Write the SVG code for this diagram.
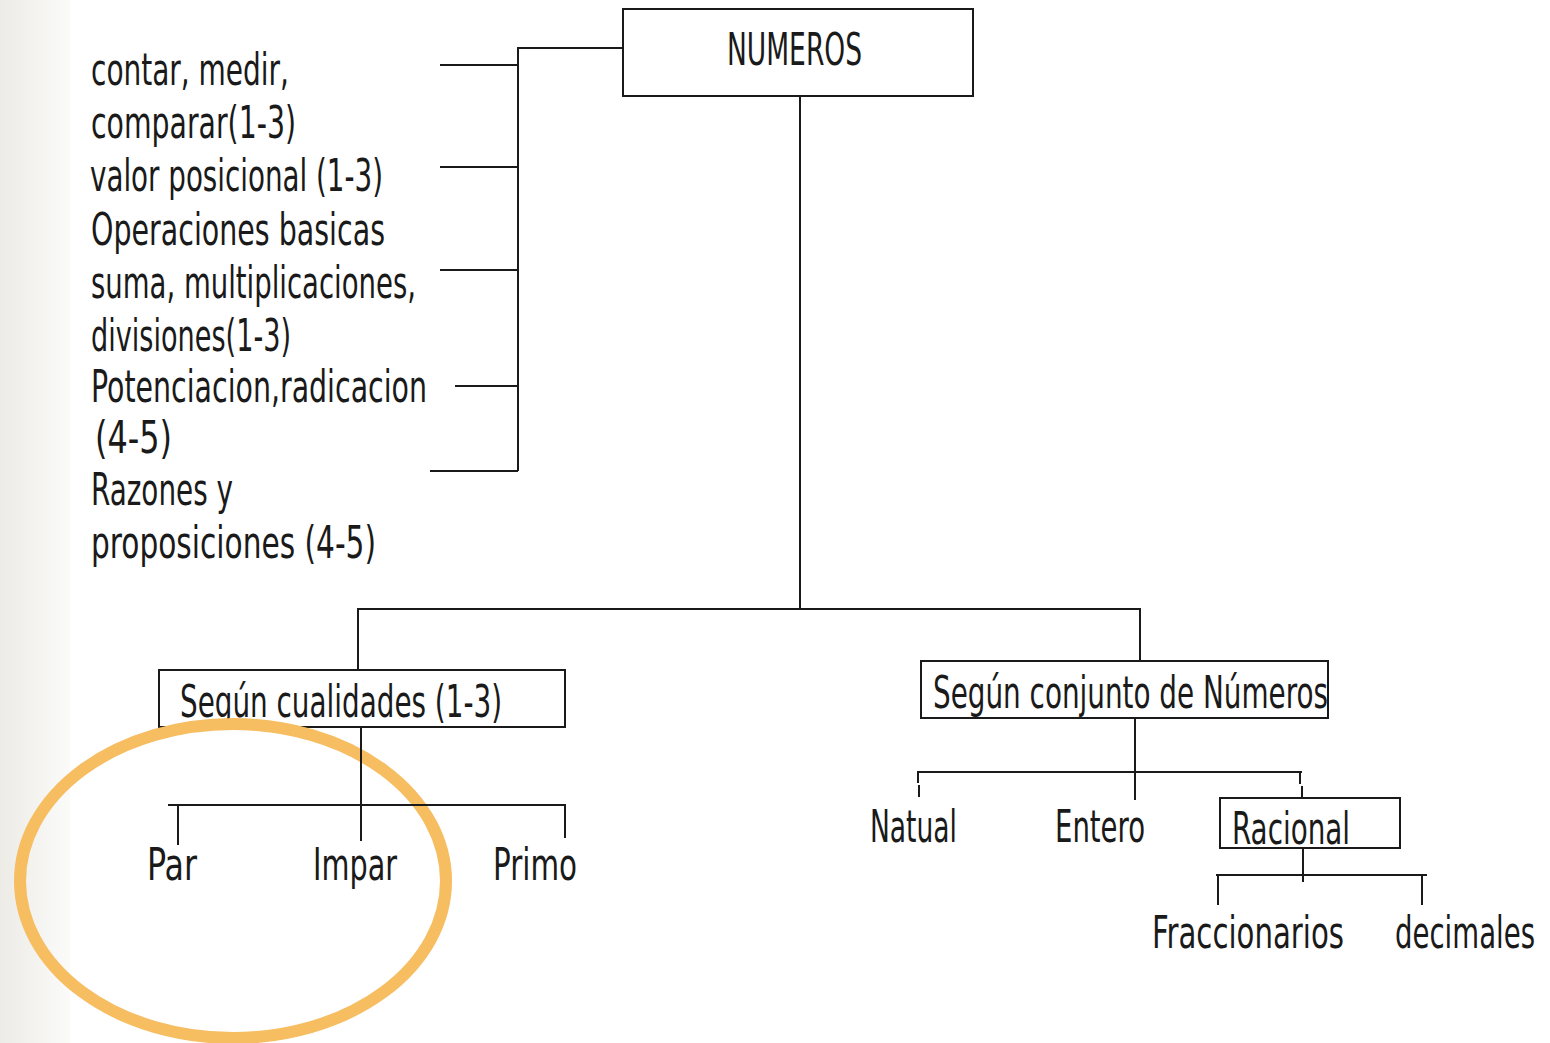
<svg xmlns="http://www.w3.org/2000/svg" width="1550" height="1043" viewBox="0 0 1550 1043">
<defs>
<linearGradient id="side" x1="0" y1="0" x2="1" y2="0">
<stop offset="0" stop-color="#ecebe6"/>
<stop offset="1" stop-color="#fbfbfa"/>
</linearGradient>
</defs>
<style>
text{font-family:"Liberation Sans Narrow","DejaVu Sans Condensed","Liberation Sans",sans-serif;font-size:44px;fill:#1a1a1a}
.box{fill:#fff;stroke:#1a1a1a;stroke-width:2}
.ln{fill:none;stroke:#1a1a1a;stroke-width:2}
.ring{fill:none;stroke:#f6bd61;stroke-width:12}
</style>
<rect width="1550" height="1043" fill="#fff"/>
<rect x="0" y="0" width="70" height="1043" fill="url(#side)"/>

<g id="n-list">
<text x="91" y="85" textLength="198" lengthAdjust="spacingAndGlyphs">contar, medir,</text>
<text x="91" y="138" textLength="205" lengthAdjust="spacingAndGlyphs">comparar(1-3)</text>
<text x="90" y="191" textLength="293" lengthAdjust="spacingAndGlyphs">valor posicional (1-3)</text>
<text x="91" y="245" textLength="294" lengthAdjust="spacingAndGlyphs">Operaciones basicas</text>
<text x="91" y="298" textLength="325" lengthAdjust="spacingAndGlyphs">suma, multiplicaciones,</text>
<text x="91" y="351" textLength="200" lengthAdjust="spacingAndGlyphs">divisiones(1-3)</text>
<text x="91" y="402" textLength="336" lengthAdjust="spacingAndGlyphs">Potenciacion,radicacion</text>
<text x="95" y="453" textLength="77" lengthAdjust="spacingAndGlyphs">(4-5)</text>
<text x="91" y="505" textLength="142" lengthAdjust="spacingAndGlyphs">Razones y</text>
<text x="91" y="558" textLength="285" lengthAdjust="spacingAndGlyphs">proposiciones (4-5)</text>
</g>

<g id="n-numeros">
<rect class="box" x="623" y="9" width="350" height="87"/>
<text x="727" y="65" textLength="135" lengthAdjust="spacingAndGlyphs">NUMEROS</text>
</g>

<g id="n-cualidades">
<rect class="box" x="159" y="670" width="406" height="57"/>
<text x="180" y="717" textLength="322" lengthAdjust="spacingAndGlyphs">Según cualidades (1-3)</text>
</g>

<g id="n-conjunto">
<rect class="box" x="921" y="661" width="407" height="57"/>
<text x="933" y="708" textLength="395" lengthAdjust="spacingAndGlyphs">Según conjunto de Números</text>
</g>

<g id="n-par"><text x="147" y="880" textLength="50" lengthAdjust="spacingAndGlyphs">Par</text></g>
<g id="n-impar"><text x="313" y="880" textLength="84" lengthAdjust="spacingAndGlyphs">Impar</text></g>
<g id="n-primo"><text x="493" y="880" textLength="84" lengthAdjust="spacingAndGlyphs">Primo</text></g>

<g id="n-natual"><text x="870" y="842" textLength="87" lengthAdjust="spacingAndGlyphs">Natual</text></g>
<g id="n-entero"><text x="1055" y="842" textLength="90" lengthAdjust="spacingAndGlyphs">Entero</text></g>
<g id="n-racional">
<rect class="box" x="1220" y="798" width="180" height="50"/>
<text x="1232" y="844" textLength="118" lengthAdjust="spacingAndGlyphs">Racional</text>
</g>
<g id="n-fraccionarios"><text x="1152" y="948" textLength="192" lengthAdjust="spacingAndGlyphs">Fraccionarios</text></g>
<g id="n-decimales"><text x="1535" y="948" text-anchor="end" textLength="140" lengthAdjust="spacingAndGlyphs">decimales</text></g>

<g id="highlight">
<ellipse class="ring" cx="233" cy="881" rx="213" ry="157"/>
</g>

<g id="connectors">
<path class="ln" d="M623 48 H518 V471"/>
<path class="ln" d="M440 65 H518 M440 167 H518 M440 270 H518 M455 386 H518 M430 471 H518"/>
<path class="ln" d="M800 96 V609 M357 609 H1141 M358 609 V670 M1140 609 V661"/>
<path class="ln" d="M361 727 V841 M168 805 H566 M178 805 V845 M565 805 V838"/>
<path class="ln" d="M1135 718 V800 M917 772 H1302 M918 772 V783 M919 785 V797 M1300 772 V784 M1302 786 V798"/>
<path class="ln" d="M1303 848 V882 M1216 875 H1427 M1218 875 V905 M1422 875 V905"/>
</g>
</svg>
